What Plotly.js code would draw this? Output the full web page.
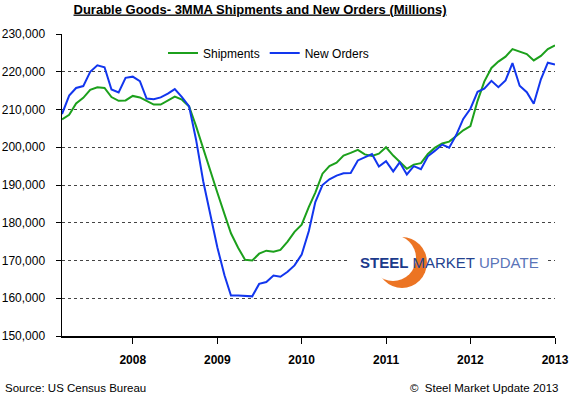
<!DOCTYPE html>
<html>
<head>
<meta charset="utf-8">
<script src="https://cdn.plot.ly/plotly-3.0.1.min.js"></script>
<style>
html,body{margin:0;padding:0;background:#fff;}
#chart{width:575px;height:396px;}
</style>
</head>
<body>
<div id="chart"></div>
<script>
// Monthly periods (3-month moving average), Mar 2007 .. Jan 2013
var months = [
  '2007-03','2007-04','2007-05','2007-06','2007-07','2007-08','2007-09','2007-10','2007-11','2007-12',
  '2008-01','2008-02','2008-03','2008-04','2008-05','2008-06','2008-07','2008-08','2008-09','2008-10','2008-11','2008-12',
  '2009-01','2009-02','2009-03','2009-04','2009-05','2009-06','2009-07','2009-08','2009-09','2009-10','2009-11','2009-12',
  '2010-01','2010-02','2010-03','2010-04','2010-05','2010-06','2010-07','2010-08','2010-09','2010-10','2010-11','2010-12',
  '2011-01','2011-02','2011-03','2011-04','2011-05','2011-06','2011-07','2011-08','2011-09','2011-10','2011-11','2011-12',
  '2012-01','2012-02','2012-03','2012-04','2012-05','2012-06','2012-07','2012-08','2012-09','2012-10','2012-11','2012-12',
  '2013-01'
];

var shipments = [
  207400,208600,211600,213100,215200,215900,215700,213300,212300,212400,
  213600,213200,212300,211300,211300,212300,213400,212600,210800,205600,199500,193500,
  188000,182300,177200,173400,170200,170000,171800,172600,172300,172800,175000,177600,
  179500,184200,188000,193000,195000,195900,197800,198500,199300,198100,197700,198300,
  200000,197800,196200,194300,195400,195800,198200,199900,201000,201500,203000,204500,
  205600,212300,217400,221000,222700,224000,226000,225300,224700,223000,224200,226000,
  227000
];

var newOrders = [
  208800,213700,215700,216200,220000,221700,221200,215300,214500,218400,
  218700,217500,212900,212700,213200,214200,215400,213300,210800,202000,191000,182200,
  173500,166100,160700,160700,160700,160500,163800,164300,166000,165700,167000,168700,
  171600,177800,185500,190000,191500,192500,193100,193200,196500,197300,198200,194900,
  196300,193600,196000,192800,195000,194200,197600,199100,200700,199900,203300,207500,
  210200,214700,215500,217600,215900,217700,222300,216300,214600,211500,218000,222400,
  221900
];

var yearTicks = ['2008-01-01','2009-01-01','2010-01-01','2011-01-01','2012-01-01','2013-01-01'];
var yearLabels = ['2008','2009','2010','2011','2012','2013'];
var yTicks = [150000,160000,170000,180000,190000,200000,210000,220000,230000];

var FONT = 'Liberation Sans, Arial, sans-serif';

var traces = [
  {x: months, y: shipments, name: 'Shipments', type: 'scatter', mode: 'lines',
   line: {color: '#1CA01C', width: 2}},
  {x: months, y: newOrders, name: 'New Orders', type: 'scatter', mode: 'lines',
   line: {color: '#1236EE', width: 2}}
];

// pixel helpers for decoration placement (plot area: x 62..555, y 34..336)
function px(x){ return (x-62)/493; }
function py(y){ return (336-y)/302; }

var layout = {
  width: 575, height: 396,
  paper_bgcolor: '#ffffff', plot_bgcolor: '#ffffff',
  margin: {l: 62, r: 20, t: 34, b: 60},
  font: {family: FONT, size: 12, color: '#000'},
  title: {
    text: '<b><u>Durable Goods- 3MMA Shipments and New Orders (Millions)</u></b>',
    font: {family: FONT, size: 13, color: '#000'},
    x: 260/575, xref: 'container', xanchor: 'center',
    y: 1 - 9/396, yref: 'container', yanchor: 'middle'
  },
  showlegend: true,
  legend: {
    orientation: 'h', x: px(163), xanchor: 'left', y: py(53), yanchor: 'middle',
    bgcolor: 'rgba(0,0,0,0)', font: {family: FONT, size: 12, color: '#000'},
    itemwidth: 30, tracegroupgap: 0
  },
  xaxis: {
    type: 'date',
    range: ['2007-03-01', '2013-01-01'],
    tickmode: 'array', tickvals: yearTicks, ticktext: yearLabels,
    tickfont: {family: FONT, size: 12, color: '#000', weight: 'bold'},
    ticks: 'outside', ticklen: 6, tickwidth: 1, tickcolor: '#000',
    showline: true, linecolor: '#000', linewidth: 1.5,
    showgrid: false, zeroline: false,
    ticklabelstandoff: 6
  },
  yaxis: {
    range: [150000, 230000],
    tickmode: 'array', tickvals: yTicks,
    tickformat: ',d',
    tickfont: {family: FONT, size: 12, color: '#000'},
    ticks: 'outside', ticklen: 5, tickwidth: 1, tickcolor: '#000',
    showline: true, linecolor: '#000', linewidth: 1.5,
    showgrid: true, gridcolor: '#444', gridwidth: 1, griddash: 'dot',
    zeroline: false,
    ticklabelstandoff: 8
  },
  shapes: [
    {type: 'rect', xref: 'paper', yref: 'paper', layer: 'above',
     x0: px(350), x1: px(548), y0: py(290), y1: py(236),
     fillcolor: '#ffffff', line: {width: 0}},
    {type: 'circle', xref: 'paper', yref: 'paper', layer: 'above',
     x0: px(377), x1: px(427), y0: py(288), y1: py(237),
     fillcolor: '#EC7423', line: {width: 0}},
    {type: 'circle', xref: 'paper', yref: 'paper', layer: 'above',
     x0: px(370), x1: px(416), y0: py(281), y1: py(235),
     fillcolor: '#ffffff', line: {width: 0}}
  ],
  annotations: [
    {xref: 'paper', yref: 'paper', x: px(449), y: py(262), xanchor: 'center', yanchor: 'middle',
     showarrow: false,
     text: "<span style='color:#1B3A8C'><b>STEEL</b></span> <span style='color:#24438F'>MARKET</span> <span style='color:#5A74B8'>UPDATE</span>",
     font: {family: FONT, size: 15, color: '#24438F'}},
    {xref: 'paper', yref: 'paper', x: px(3), y: py(388), xanchor: 'left', yanchor: 'middle',
     showarrow: false, text: 'Source: US Census Bureau',
     font: {family: FONT, size: 11.5, color: '#000'}},
    {xref: 'paper', yref: 'paper', x: px(560), y: py(388), xanchor: 'right', yanchor: 'middle',
     showarrow: false, text: '©  Steel Market Update 2013',
     font: {family: FONT, size: 11.5, color: '#000'}}
  ]
};

Plotly.newPlot('chart', traces, layout, {displayModeBar: false, staticPlot: true});
</script>
</body>
</html>
